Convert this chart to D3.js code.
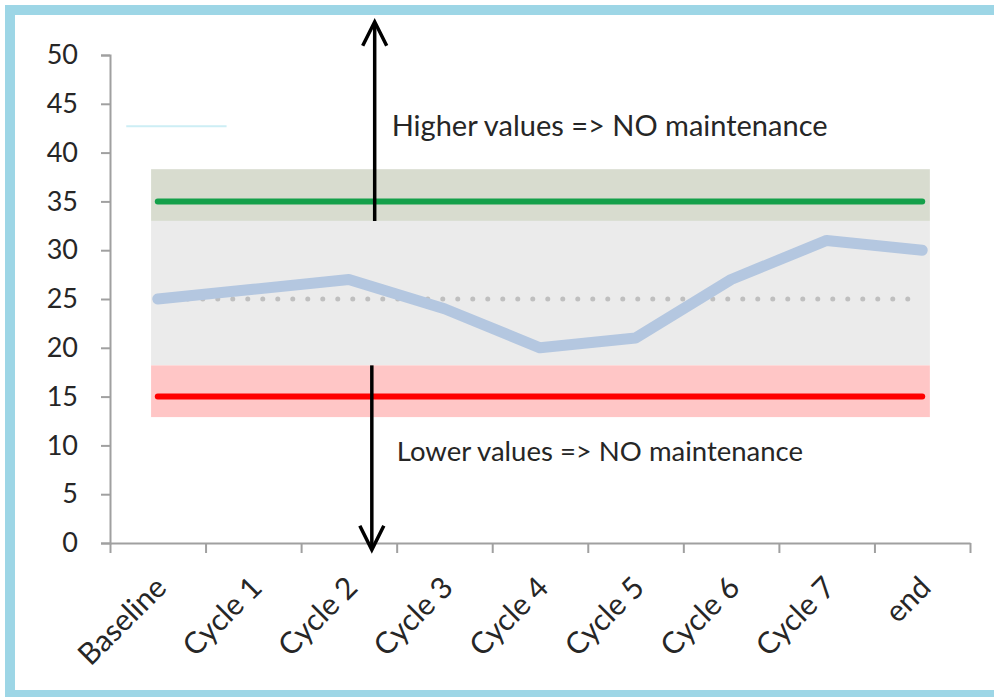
<!DOCTYPE html>
<html>
<head>
<meta charset="utf-8">
<script src="https://cdn.jsdelivr.net/npm/d3@7"></script>
<style>
  html, body { margin: 0; padding: 0; background: #ffffff; }
  svg { display: block; }
</style>
</head>
<body>
<svg id="chart" width="994" height="697"></svg>
<script>
// Measurement cycles along the x axis
const categories = ["Baseline", "Cycle 1", "Cycle 2", "Cycle 3", "Cycle 4", "Cycle 5", "Cycle 6", "Cycle 7", "end"];
// Measured value per cycle
const values = [25, 26, 27, 24, 20, 21, 27, 31, 30];
// Reference levels
const upperLimit = 35;
const lowerLimit = 15;
const targetLevel = 25;
// Shaded zones: [from, to] in value units
const upperZone = [33, 38.3];
const middleZone = [18.2, 33];
const lowerZone = [12.9, 18.2];
// Y axis ticks
const yTicks = [0, 5, 10, 15, 20, 25, 30, 35, 40, 45, 50];
// Annotation arrows: position between categories (index), value range, caption
const arrows = [
  { at: 2.27, from: 33, to: 53.4, text: "Higher values => NO maintenance", textAt: 41.7, textShift: 17, size: 29 },
  { at: 2.24, from: 18.2, to: -0.7, text: "Lower values => NO maintenance", textAt: 8.4, textShift: 25, size: 27.5 }
];
// Faint legend stub
const legendStub = { from: -0.33, to: 0.72, level: 42.7 };

const svg = d3.select("#chart");
const W = 994, H = 697;
const plot = { left: 110, right: 970, top: 55, bottom: 543 };

const x = d3.scaleLinear().domain([-0.5, categories.length - 0.5]).range([plot.left, plot.right]);
const y = d3.scaleLinear().domain([0, 50]).range([plot.bottom, plot.top]);

const FONT = "Lato, 'Open Sans', sans-serif";
const TEXT = "#262626";

// outer frame
svg.append("rect")
  .attr("x", 10).attr("y", 10)
  .attr("width", W + 20).attr("height", 685)
  .attr("fill", "none")
  .attr("stroke", "#9dd6e6")
  .attr("stroke-width", 10);

// zones
const zoneSpan = [-0.07, 8.08];
const zones = [
  { r: upperZone, fill: "#d8dccf" },
  { r: middleZone, fill: "#ebebeb" },
  { r: lowerZone, fill: "#ffc6c6" }
];
svg.append("g").selectAll("rect").data(zones).join("rect")
  .attr("x", x(zoneSpan[0]))
  .attr("width", x(zoneSpan[1]) - x(zoneSpan[0]))
  .attr("y", d => y(d.r[1]))
  .attr("height", d => y(d.r[0]) - y(d.r[1]))
  .attr("fill", d => d.fill);

// legend stub line
svg.append("line")
  .attr("x1", x(legendStub.from)).attr("x2", x(legendStub.to))
  .attr("y1", y(legendStub.level)).attr("y2", y(legendStub.level))
  .attr("stroke", "#cdeef5").attr("stroke-width", 2);

// target (dotted) line
svg.append("line")
  .attr("x1", x(0)).attr("x2", x(categories.length - 1))
  .attr("y1", y(targetLevel)).attr("y2", y(targetLevel))
  .attr("stroke", "#bfbfbf").attr("stroke-width", 5)
  .attr("stroke-linecap", "round")
  .attr("stroke-dasharray", "0,15");

// limit lines
[[upperLimit, "#14a04a"], [lowerLimit, "#ff0000"]].forEach(([v, c]) => {
  svg.append("line")
    .attr("x1", x(0)).attr("x2", x(categories.length - 1))
    .attr("y1", y(v)).attr("y2", y(v))
    .attr("stroke", c).attr("stroke-width", 6)
    .attr("stroke-linecap", "round");
});

// measured series
const line = d3.line().x((d, i) => x(i)).y(d => y(d));
svg.append("path")
  .datum(values)
  .attr("d", line)
  .attr("fill", "none")
  .attr("stroke", "#b4c7e0")
  .attr("stroke-width", 11)
  .attr("stroke-linecap", "round")
  .attr("stroke-linejoin", "round");

// axes
const axisColor = "#a0a0a0";
const gy = svg.append("g").attr("transform", `translate(${plot.left},0)`)
  .call(d3.axisLeft(y).tickValues(yTicks).tickSize(9).tickPadding(23).tickSizeOuter(9));
gy.select(".domain").attr("stroke", axisColor).attr("stroke-width", 2);
gy.selectAll(".tick line").attr("stroke", axisColor).attr("stroke-width", 2);
gy.selectAll(".tick text")
  .attr("font-family", FONT).attr("font-size", 27).attr("fill", TEXT);

const bounds = d3.range(categories.length + 1).map(i => i - 0.5);
const gx = svg.append("g").attr("transform", `translate(0,${plot.bottom})`)
  .call(d3.axisBottom(x).tickValues(bounds).tickSize(10).tickSizeOuter(0).tickFormat(""));
gx.select(".domain").attr("stroke", axisColor).attr("stroke-width", 2);
gx.selectAll(".tick line").attr("stroke", axisColor).attr("stroke-width", 2);

svg.append("g").selectAll("text").data(categories).join("text")
  .attr("transform", (d, i) => `translate(${x(i) + 3},${plot.bottom + 39}) rotate(-45)`)
  .attr("text-anchor", "end")
  .attr("dy", "0.35em")
  .attr("font-family", FONT).attr("font-size", 30).attr("fill", TEXT)
  .text(d => d);

// annotation arrows
arrows.forEach(a => {
  const ax = x(a.at);
  const y0 = y(a.from), y1 = y(a.to);
  const dir = y1 < y0 ? -1 : 1;
  svg.append("line")
    .attr("x1", ax).attr("x2", ax).attr("y1", y0).attr("y2", y1 - dir * 2)
    .attr("stroke", "#000").attr("stroke-width", 3.5);
  svg.append("path")
    .attr("d", `M${ax - 12},${y1 - dir * 24} L${ax},${y1} L${ax + 12},${y1 - dir * 24}`)
    .attr("fill", "none").attr("stroke", "#000").attr("stroke-width", 3.5)
    .attr("stroke-linejoin", "miter");
  svg.append("text")
    .attr("x", ax + a.textShift).attr("y", y(a.textAt))
    .attr("font-family", FONT).attr("font-size", a.size).attr("fill", TEXT)
    .text(a.text);
});
</script>
</body>
</html>
